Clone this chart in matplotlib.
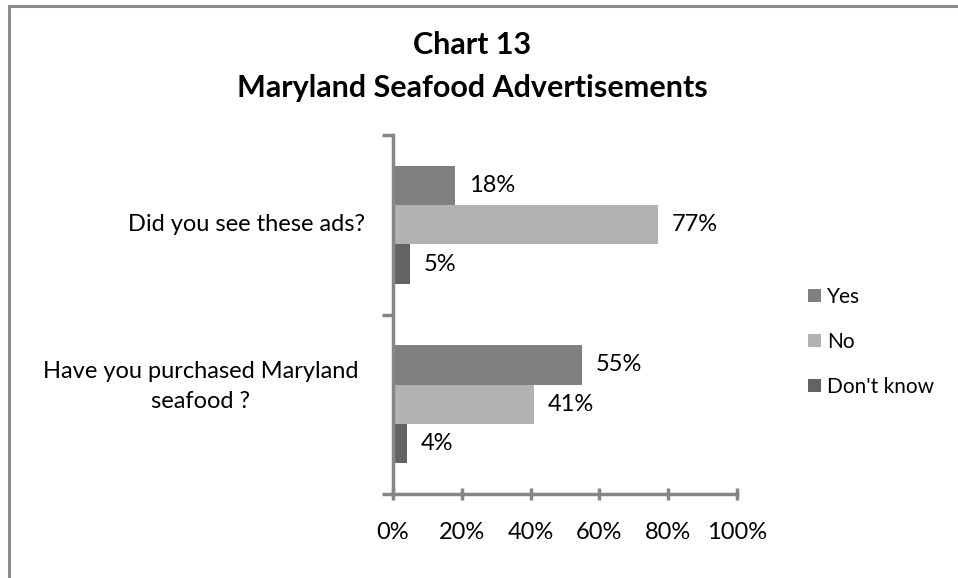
import matplotlib
matplotlib.use("Agg")
import matplotlib.pyplot as plt
from matplotlib.patches import Rectangle
import numpy as np

plt.rcParams['font.family'] = ['Lato', 'DejaVu Sans']

questions = ["Did you see these ads?", "Have you purchased Maryland\nseafood ?"]
series = ["Yes", "No", "Don't know"]
yes = [18, 55]
no = [77, 41]
dont_know = [5, 4]
colors = ["#808080", "#b2b2b2", "#636363"]
x_ticks = [0, 20, 40, 60, 80, 100]
x_tick_labels = ["0%", "20%", "40%", "60%", "80%", "100%"]

W, H = 958, 578
FS = 17
fig = plt.figure(figsize=(W / 100, H / 100), dpi=100)

# outer chart frame (runs off the right and bottom edges)
fig.patches.append(Rectangle((9 / W, -0.1), 1.2, 1.1 - 6 / H,
                             transform=fig.transFigure, fill=False,
                             edgecolor="#8c8c8c", linewidth=2.2))

left, right, top, bottom = 393, 737, 135, 494
ax = fig.add_axes([left / W, 1 - bottom / H, (right - left) / W, (bottom - top) / H])

ypos = np.array([1, 0])  # first question on top
h = 0.22
for vals, off, col, name in zip([yes, no, dont_know], [h, 0, -h], colors, series):
    bars = ax.barh(ypos + off, vals, height=h, color=col, label=name)
    for b, v in zip(bars, vals):
        ax.text(b.get_width() + 4, b.get_y() + b.get_height() / 2, f"{v}%",
                va="center", ha="left", fontsize=FS, color="black")

ax.set_xlim(0, 100)
ax.set_ylim(-0.5, 1.5)
ax.set_xticks(x_ticks)
ax.set_xticklabels(x_tick_labels, fontsize=FS)
ax.set_yticks([-0.5, 0.5, 1.5])
ax.set_yticklabels([])
ax.tick_params(axis="y", which="major", length=8, width=2.5, color="#868686",
               direction="out")
ax.tick_params(axis="x", length=8, width=2.5, color="#868686", pad=16,
               direction="inout")

# category labels
ax.text(-0.08, 1, questions[0], transform=ax.get_yaxis_transform(),
        ha="right", va="center", fontsize=FS)
ax.text(-0.56, 0.1, questions[1], transform=ax.get_yaxis_transform(),
        ha="center", va="center", fontsize=FS, multialignment="center",
        linespacing=1.55)

for s in ["top", "right"]:
    ax.spines[s].set_visible(False)
for s in ["left", "bottom"]:
    ax.spines[s].set_color("#868686")
    ax.spines[s].set_linewidth(2.5)

fig.text(0.493, 1 - 45 / H, "Chart 13", ha="center", va="center",
         fontsize=22, fontweight="bold")
fig.text(0.493, 1 - 88 / H, "Maryland Seafood Advertisements", ha="center",
         va="center", fontsize=22, fontweight="bold")

fig.legend(loc="upper left", bbox_to_anchor=(808 / W, 1 - 287 / H),
           frameon=False, fontsize=15, handlelength=0.6, handleheight=0.6,
           handletextpad=0.3, labelspacing=1.2, borderpad=0,
           borderaxespad=0)

fig.savefig("out.png", dpi=100)
